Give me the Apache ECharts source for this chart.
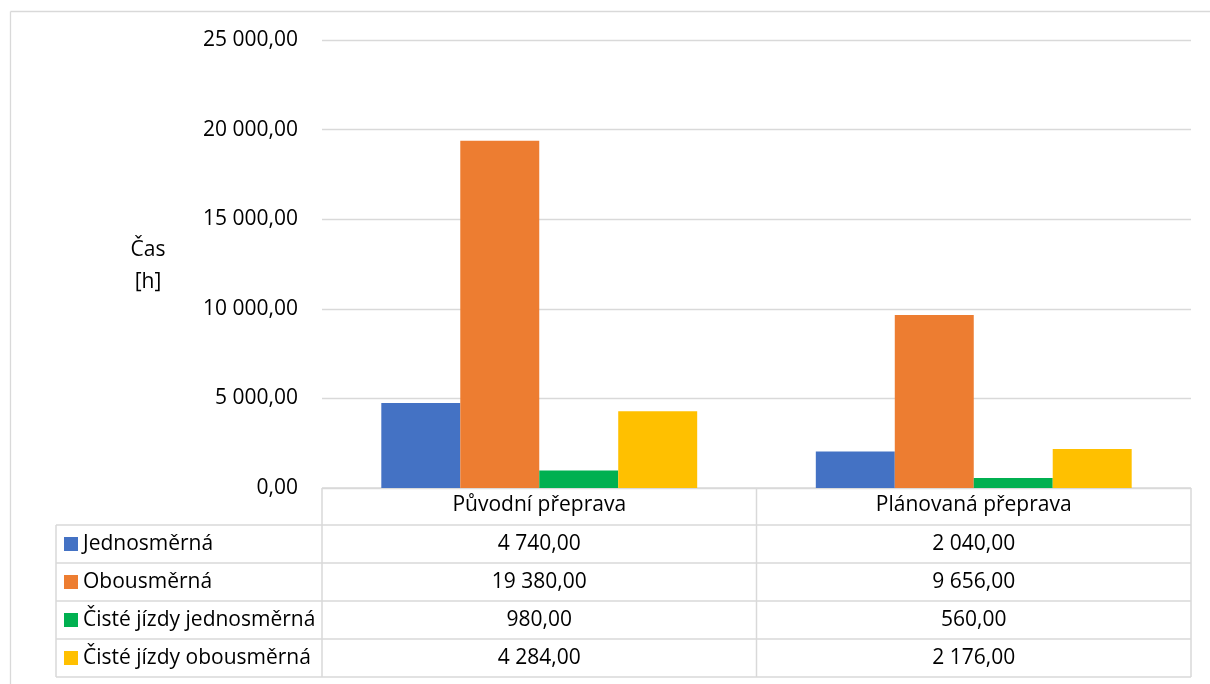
<!DOCTYPE html>
<html>
<head>
<meta charset="utf-8">
<script src="https://cdn.jsdelivr.net/npm/echarts@6/dist/echarts.min.js"></script>
<style>
  html, body { margin: 0; padding: 0; background: #ffffff; }
  #chart { width: 1210px; height: 684px; }
</style>
</head>
<body>
<div id="chart"></div>
<script>
// Transport time comparison: original vs. planned transport
const categories = ['Původní přeprava', 'Plánovaná přeprava'];
const seriesNames = ['Jednosměrná', 'Obousměrná', 'Čisté jízdy jednosměrná', 'Čisté jízdy obousměrná'];
const jednosmerna = [4740, 2040];
const obousmerna = [19380, 9656];
const cisteJednosmerna = [980, 560];
const cisteObousmerna = [4284, 2176];
const seriesValues = [jednosmerna, obousmerna, cisteJednosmerna, cisteObousmerna];
const seriesColors = ['#4472C4', '#ED7D31', '#00B050', '#FFC000'];
const yTicks = { min: 0, max: 25000, step: 5000 };
const axisTitle = 'Čas\n[h]';

const FONT = '"Open Sans", "Noto Sans", sans-serif';
const FONT_SIZE = 21;
const TEXT = '#000000';
const LINE = '#d9d9d9';

// Czech number format: "19 380,00"
function fmt(v) {
  const parts = v.toFixed(2).split('.');
  const intPart = parts[0].replace(/\B(?=(\d{3})+(?!\d))/g, ' ');
  return intPart + ',' + parts[1];
}

const chart = echarts.init(document.getElementById('chart'), null, { renderer: 'canvas' });

const GRID = { left: 322, right: 19, top: 40, bottom: 196 };
const ROW_H = 38;
const HEADER_H = 37;
const TABLE_LEFT = 56;

chart.setOption({
  backgroundColor: '#ffffff',
  animation: false,
  textStyle: { fontFamily: FONT },
  grid: GRID,
  xAxis: {
    type: 'category',
    data: categories,
    axisLine: { show: false },
    axisTick: { show: false },
    axisLabel: {
      show: true,
      interval: 0,
      margin: 7,
      fontFamily: FONT,
      fontSize: FONT_SIZE,
      color: TEXT
    },
    splitLine: { show: false }
  },
  yAxis: {
    type: 'value',
    min: yTicks.min,
    max: yTicks.max,
    interval: yTicks.step,
    axisLine: { show: false },
    axisTick: { show: false },
    axisLabel: {
      margin: 24,
      fontFamily: FONT,
      fontSize: FONT_SIZE,
      color: TEXT,
      formatter: function (v) { return fmt(v); }
    },
    splitLine: { lineStyle: { color: LINE, width: 1.3 } }
  },
  series: seriesNames.map(function (name, i) {
    return {
      name: name,
      type: 'bar',
      data: seriesValues[i],
      barGap: '0%',
      barCategoryGap: '27.3%',
      itemStyle: { color: seriesColors[i] }
    };
  })
});

// Data table under the plot, laid out from the axes' own pixel positions
function buildTable() {
  const y0 = chart.convertToPixel({ yAxisIndex: 0 }, 0);
  const centers = categories.map(function (c, i) {
    return chart.convertToPixel({ xAxisIndex: 0 }, i);
  });
  const plotLeft = GRID.left;
  const plotRight = 1210 - GRID.right;
  const colBounds = [plotLeft];
  for (let i = 0; i < centers.length - 1; i++) colBounds.push((centers[i] + centers[i + 1]) / 2);
  colBounds.push(plotRight);

  const rowTop = y0 + HEADER_H;
  const tableBottom = rowTop + ROW_H * seriesNames.length;
  const els = [];
  const lineStyle = { stroke: LINE, lineWidth: 1.5 };

  // chart area outline
  els.push({ type: 'line', shape: { x1: 10.5, y1: 11.5, x2: 1210, y2: 11.5 }, style: { stroke: LINE, lineWidth: 1.3 } });
  els.push({ type: 'line', shape: { x1: 10.5, y1: 11.5, x2: 10.5, y2: 684 }, style: { stroke: LINE, lineWidth: 1.3 } });

  // axis title
  els.push({
    type: 'text',
    x: 148, y: 266,
    style: {
      text: axisTitle, fontFamily: FONT, fontSize: FONT_SIZE, fill: TEXT,
      align: 'center', verticalAlign: 'middle', lineHeight: 32
    }
  });

  // header top border (category row)
  els.push({ type: 'line', shape: { x1: plotLeft, y1: y0, x2: plotRight, y2: y0 }, style: lineStyle });
  // row borders
  for (let r = 0; r <= seriesNames.length; r++) {
    const y = rowTop + r * ROW_H;
    els.push({ type: 'line', shape: { x1: TABLE_LEFT, y1: y, x2: plotRight, y2: y }, style: lineStyle });
  }
  // vertical borders
  els.push({ type: 'line', shape: { x1: TABLE_LEFT, y1: rowTop, x2: TABLE_LEFT, y2: tableBottom }, style: lineStyle });
  colBounds.forEach(function (x) {
    els.push({ type: 'line', shape: { x1: x, y1: y0, x2: x, y2: tableBottom }, style: lineStyle });
  });

  // legend keys, series names and values
  seriesNames.forEach(function (name, r) {
    const cy = rowTop + r * ROW_H + ROW_H / 2;
    els.push({ type: 'rect', shape: { x: 64, y: cy - 7, width: 14, height: 14 }, style: { fill: seriesColors[r] } });
    els.push({
      type: 'text', x: 83, y: cy,
      style: { text: name, fontFamily: FONT, fontSize: FONT_SIZE, fill: TEXT, align: 'left', verticalAlign: 'middle' }
    });
    seriesValues[r].forEach(function (v, c) {
      els.push({
        type: 'text', x: centers[c], y: cy,
        style: { text: fmt(v), fontFamily: FONT, fontSize: FONT_SIZE, fill: TEXT, align: 'center', verticalAlign: 'middle' }
      });
    });
  });

  chart.setOption({ graphic: { elements: els } });
}

buildTable();
</script>
</body>
</html>
